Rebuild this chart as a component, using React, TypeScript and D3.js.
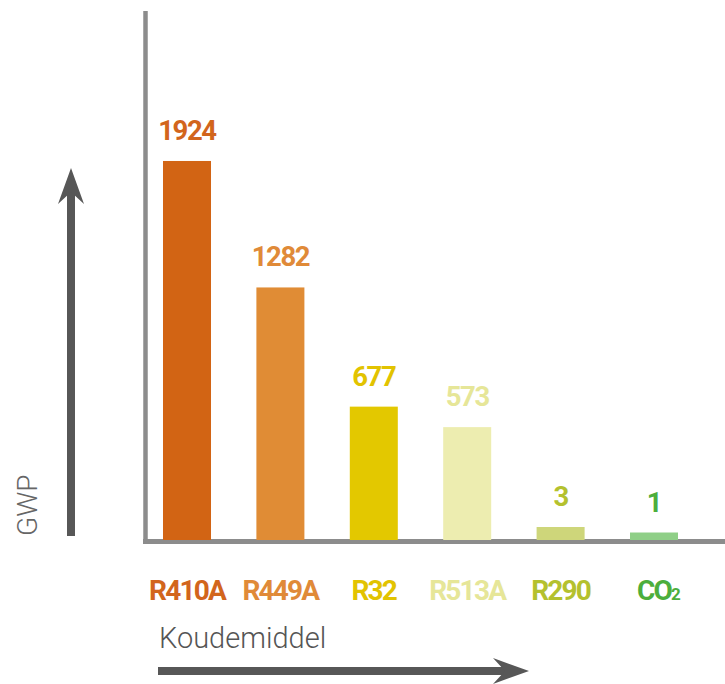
import React from "react";
import * as d3 from "d3";

const categories = ["R410A", "R449A", "R32", "R513A", "R290", "CO2"];
const gwpValues = [1924, 1282, 677, 573, 3, 1];
const barColors = ["#D26414", "#E08C35", "#E3C800", "#EDEDB0", "#CED67A", "#8FCF87"];
const labelColors = ["#D2651C", "#E08A38", "#E2C300", "#E6E698", "#B4C12E", "#4CAE3C"];
const yAxisTitle = "GWP";
const xAxisTitle = "Koudemiddel";

const W = 725;
const H = 684;
const baseY = 540;
const FONT = "Roboto, 'Noto Sans', sans-serif";

export default function App() {
  const x = d3
    .scaleBand<string>()
    .domain(categories)
    .range([140.3, 700.7])
    .paddingInner(0.486)
    .paddingOuter(0.243);

  // main linear height scale + a minimum visible stub for tiny values
  const hLin = d3.scaleLinear().domain([0, 2000]).range([0, 394]);
  const hStub = d3.scaleSqrt().domain([0, 4]).range([0, 15]).clamp(true);
  const barH = (v: number) => Math.max(hLin(v), hStub(v));

  const arrowColor = "#575757";
  const axisColor = "#8C8C8C";

  return (
    <svg
      width={W}
      height={H}
      style={{ position: "absolute", left: 0, top: 0, background: "#fff" }}
      fontFamily={FONT}
    >
      {/* axes */}
      <line x1={145.5} x2={145.5} y1={11} y2={544} stroke={axisColor} strokeWidth={4.5} />
      <line x1={143} x2={W} y1={541.5} y2={541.5} stroke={axisColor} strokeWidth={5} />

      {/* bars */}
      {categories.map((c, i) => {
        const h = barH(gwpValues[i]);
        const bx = x(c)!;
        return (
          <g key={c}>
            <rect x={bx} y={baseY - h} width={x.bandwidth()} height={h} fill={barColors[i]} />
            <text
              x={bx + x.bandwidth() / 2}
              y={baseY - h - 21}
              textAnchor="middle"
              fontSize={27.5}
              fontWeight={700}
              letterSpacing={-1.4}
              fill={labelColors[i]}
            >
              {gwpValues[i]}
            </text>
            <text
              x={bx + x.bandwidth() / 2 + (c === "CO2" ? 4 : 0)}
              y={600}
              textAnchor="middle"
              fontSize={28}
              fontWeight={700}
              letterSpacing={-1.8}
              fill={labelColors[i]}
            >
              {c === "CO2" ? (
                <>
                  CO<tspan fontSize={17}>2</tspan>
                </>
              ) : (
                c
              )}
            </text>
          </g>
        );
      })}

      {/* vertical arrow */}
      <line x1={71} x2={71} y1={536} y2={190} stroke={arrowColor} strokeWidth={8} />
      <path d="M71,168 L84,204 L71,192 L58,204 Z" fill={arrowColor} />
      <text
        transform="translate(37,536) rotate(-90)"
        fontSize={28}
        fontWeight={300}
        fill="#666"
      >
        {yAxisTitle}
      </text>

      {/* horizontal arrow */}
      <line x1={158} x2={508} y1={671} y2={671} stroke={arrowColor} strokeWidth={8} />
      <path d="M529,671 L493,658 L505,671 L493,684 Z" fill={arrowColor} />
      <text x={159} y={648} fontSize={29} fontWeight={300} fill="#555">
        {xAxisTitle}
      </text>
    </svg>
  );
}
